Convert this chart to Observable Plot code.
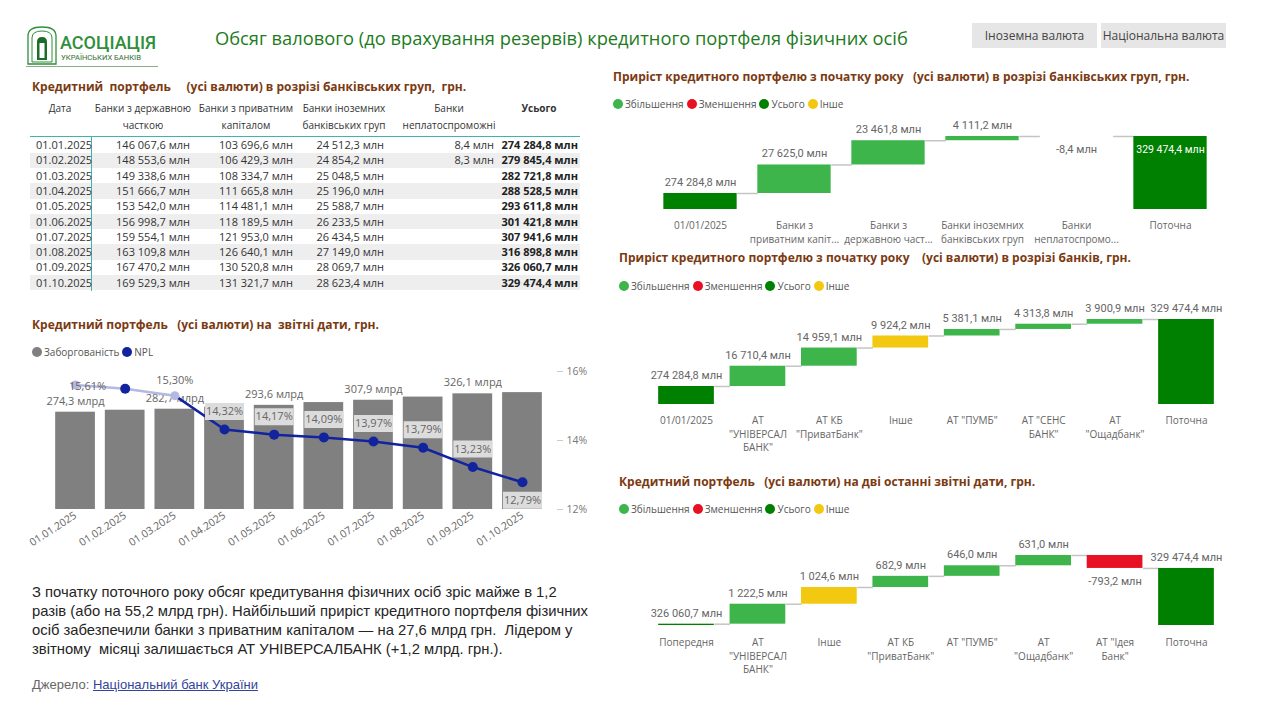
<!DOCTYPE html>
<html><head><meta charset="utf-8">
<script src="https://cdn.jsdelivr.net/npm/d3@7"></script>
<script src="https://cdn.jsdelivr.net/npm/@observablehq/plot@0.6"></script>
<style>
body{margin:0;background:#fff;width:1267px;height:725px;position:relative;overflow:hidden;font-family:"Open Sans",sans-serif;}
.abs{position:absolute;}
.sec{position:absolute;color:#7b3a12;font-weight:700;font-size:12px;white-space:pre;line-height:18px;}
.leg{position:absolute;font-size:10px;color:#555;white-space:nowrap;display:flex;align-items:center;line-height:14px;}
.leg span{display:flex;align-items:center;margin-right:3px;}
.leg i{display:inline-block;width:10px;height:10px;border-radius:50%;margin-right:2px;}
.cell{position:absolute;white-space:pre;font-size:11px;line-height:16px;color:#333;}
.btn{position:absolute;top:23px;height:25px;width:125px;background:#e6e6e6;color:#444;font-size:12px;line-height:25px;text-align:center;}
.plot{position:absolute;}
</style></head>
<body>
<!-- logo -->
<svg class="abs" style="left:24px;top:24px" width="140" height="48">
  <path d="M4,40 L4,12 Q4,3 18,3 Q32,3 32,12 L32,40 Z" fill="none" stroke="#2f8f3a" stroke-width="1.3"/>
  <path d="M8,38 L8,14 Q8,7 18,7 Q28,7 28,14 L28,38 Z" fill="none" stroke="#2f8f3a" stroke-width="1"/>
  <path d="M13,36 L13,18 Q13,13 18,13 Q23,13 23,18 L23,36 Z" fill="#1f6b2a"/>
  <rect x="15.5" y="19" width="5" height="15" fill="#fff"/>
  <line x1="2" y1="42.5" x2="134" y2="42.5" stroke="#6a9a6a" stroke-width="0.8"/>
  <text x="36" y="25" font-family="Roboto" font-weight="500" font-size="18" fill="#2f8f3a">АСОЦІАЦІЯ</text>
  <text x="37" y="36" font-family="Roboto" font-size="7.6" fill="#2f6f2f">УКРАЇНСЬКИХ БАНКІВ</text>
</svg>
<div class="abs" style="left:215px;top:25px;font-size:18.3px;line-height:26px;color:#1d7b1d;white-space:nowrap;">Обсяг валового (до врахування резервів) кредитного портфеля фізичних осіб</div>
<div class="btn" style="left:972px">Іноземна валюта</div>
<div class="btn" style="left:1101px">Національна валюта</div>

<div class="sec" style="left:32px;top:78px">Кредитний  портфель     (усі валюти) в розрізі банківських груп,  грн.</div>
<div class="sec" style="left:32px;top:316px">Кредитний портфель   (усі валюти) на  звітні дати, грн.</div>
<div class="sec" style="left:613px;top:68px">Приріст кредитного портфелю з початку року   (усі валюти) в розрізі банківських груп, грн.</div>
<div class="sec" style="left:619px;top:249px">Приріст кредитного портфелю з початку року    (усі валюти) в розрізі банків, грн.</div>
<div class="sec" style="left:619px;top:473px">Кредитний портфель   (усі валюти) на дві останні звітні дати, грн.</div>

<div id="left" class="plot" style="left:20px;top:360px"></div>
<div id="left2" class="plot" style="left:20px;top:360px"></div>
<div id="wfA" class="plot" style="left:605px;top:115px"></div>
<div id="wfB" class="plot" style="left:605px;top:295px"></div>
<div id="wfC" class="plot" style="left:605px;top:520px"></div>

<div class="abs" style="left:32px;top:583px;width:600px;font-family:'Liberation Sans',Arial,sans-serif;font-size:14.8px;line-height:19px;color:#252525;white-space:nowrap;">З початку поточного року обсяг кредитування фізичних осіб зріс майже в 1,2<br>разів (або на 55,2 млрд грн). Найбільший приріст кредитного портфеля фізичних<br>осіб забезпечили банки з приватним капіталом — на 27,6 млрд грн.&nbsp; Лідером у<br>звітному&nbsp; місяці залишається АТ УНІВЕРСАЛБАНК (+1,2 млрд. грн.).</div>
<div class="abs" style="left:32px;top:676px;font-family:'Liberation Sans',Arial,sans-serif;font-size:13px;line-height:18px;color:#666;white-space:nowrap;">Джерело: <span style="color:#33449a;text-decoration:underline">Національний банк України</span></div>

<script>
// ---------- data ----------
const dates = ["01.01.2025","01.02.2025","01.03.2025","01.04.2025","01.05.2025","01.06.2025","01.07.2025","01.08.2025","01.09.2025","01.10.2025"];
const stateBanks = [146067.6,148553.6,149338.6,151666.7,153542.0,156998.7,159554.1,163109.8,167470.2,169529.3];
const privateBanks = [103696.6,106429.3,108334.7,111665.8,114481.1,118189.5,121953.0,126640.1,130520.8,131321.7];
const foreignBanks = [24512.3,24854.2,25048.5,25196.0,25588.7,26233.5,26434.5,27149.0,28069.7,28623.4];
const insolventBanks = [8.4,8.3,null,null,null,null,null,null,null,null];
const totals = [274284.8,279845.4,282721.8,288528.5,293611.8,301421.8,307941.6,316898.8,326060.7,329474.4];
const nplShare = [15.61,15.50,15.30,14.32,14.17,14.09,13.97,13.79,13.23,12.79];
const tableHeaders = ["Дата","Банки з державною\nчасткою","Банки з приватним\nкапіталом","Банки іноземних\nбанківських груп","Банки\nнеплатоспроможні","Усього"];

const groupCats = ["01/01/2025","Банки з\nприватним капіт...","Банки з\nдержавною част...","Банки іноземних\nбанківських груп","Банки\nнеплатоспромо...","Поточна"];
const groupVals = [274284.8,27625.0,23461.8,4111.2,-8.4,329474.4];
const groupKinds = ["total","change","change","change","change","total"];

const bankCats = ["01/01/2025","АТ\n\"УНІВЕРСАЛ\nБАНК\"","АТ КБ\n\"ПриватБанк\"","Інше","АТ \"ПУМБ\"","АТ \"СЕНС\nБАНК\"","АТ\n\"Ощадбанк\"","Поточна"];
const bankVals = [274284.8,16710.4,14959.1,9924.2,5381.1,4313.8,3900.9,329474.4];
const bankKinds = ["total","change","change","other","change","change","change","total"];

const monthCats = ["Попередня","АТ\n\"УНІВЕРСАЛ\nБАНК\"","Інше","АТ КБ\n\"ПриватБанк\"","АТ \"ПУМБ\"","АТ\n\"Ощадбанк\"","АТ \"Ідея\nБанк\"","Поточна"];
const monthVals = [326060.7,1222.5,1024.6,682.9,646.0,631.0,-793.2,329474.4];
const monthKinds = ["total","change","other","change","change","change","change","total"];

const legendItems = ["Збільшення","Зменшення","Усього","Інше"];
const legendColors = ["#3db54a","#e81123","#008000","#f2c811"];

// ---------- helpers ----------
const loc = d3.formatLocale({decimal:",",thousands:"\u00a0",grouping:[3],currency:["",""],minus:"-"});
const fmtMln = v => loc.format(",.1f")(v) + " млн";
const fmtBn = v => loc.format(".1f")(v/1000) + " млрд";
const fmtPct = v => loc.format(".2f")(v) + "%";

function legend(x, y, labels, colors){
  const d = document.createElement("div");
  d.className = "leg"; d.style.left = x+"px"; d.style.top = (y-7)+"px";
  d.innerHTML = labels.map((l,i)=>`<span><i style="background:${colors[i]}"></i>${l}</span>`).join("");
  document.body.appendChild(d);
}
legend(613,104,legendItems,legendColors);
legend(619,286,legendItems,legendColors);
legend(619,509,legendItems,legendColors);
legend(32,352,["Заборгованість","NPL"],["#808080","#12239e"]);

// ---------- table ----------
function cell(text,x,y,align,extra){
  const d=document.createElement("div"); d.className="cell"; d.textContent=text;
  d.style.top=(y-8)+"px";
  if(align==="right"){d.style.left=(x-160)+"px";d.style.width="160px";d.style.textAlign="right";}
  else if(align==="center"){d.style.left=(x-80)+"px";d.style.width="160px";d.style.textAlign="center";}
  else d.style.left=x+"px";
  if(extra) Object.assign(d.style, extra);
  document.body.appendChild(d);
}
const rowY0=145, rowStep=15.3;
dates.forEach((_,i)=>{ if(i%2===1){const z=document.createElement("div");z.className="abs";
  Object.assign(z.style,{left:"30px",top:(rowY0+rowStep*i-rowStep/2)+"px",width:"550px",height:rowStep+"px",background:"#eeeeee"});document.body.appendChild(z);} });
{const l=document.createElement("div");l.className="abs";Object.assign(l.style,{left:"30px",top:"136px",width:"550px",height:"1px",background:"#3db3b3"});document.body.appendChild(l);
 const v=document.createElement("div");v.className="abs";Object.assign(v.style,{left:"91px",top:"137px",width:"1px",height:"154px",background:"#3db3b3"});document.body.appendChild(v);}
const hdrX=[60,143,246,344,449,539];
tableHeaders.forEach((h,i)=>cell(h,hdrX[i],108,"center",{lineHeight:"17px",fontSize:"10px",fontWeight:i===5?"700":"400",color:"#333"}));
const colRight=[190,293,384,494,578];
dates.forEach((d,i)=>{
  const y=rowY0+rowStep*i;
  cell(d,36,y,"left");
  [stateBanks,privateBanks,foreignBanks,insolventBanks].forEach((arr,j)=>{ if(arr[i]!=null) cell(fmtMln(arr[i]),colRight[j],y,"right"); });
  cell(fmtMln(totals[i]),colRight[4],y,"right",{fontWeight:"700",color:"#222"});
});

// ---------- left chart (bars + NPL) ----------
const rows = dates.map((d,i)=>({i,date:d,total:totals[i],npl:nplShare[i]}));
const W=590,H=200;
const common = {width:W,height:H,marginLeft:30.2,marginRight:54,marginTop:11,marginBottom:51,
  style:{fontFamily:"Open Sans",fontSize:"10.5px",background:"transparent",overflow:"visible"}};
const xLeft = {domain:[-0.5,9.5],range:[30.2,526.8],axis:null};
document.getElementById("left").append(Plot.plot({...common,
  x:xLeft, y:{domain:[0,389000],axis:null},
  marks:[
    Plot.rect(rows,{x1:d=>d.i-0.4,x2:d=>d.i+0.4,y1:0,y2:"total",fill:"#808080"}),
    Plot.text(rows.filter(d=>d.i%2===0),{x:"i",y:"total",dy:-11,text:d=>fmtBn(d.total),fill:"#666",fontSize:11}),
    Plot.axisX({ticks:d3.range(10),tickFormat:i=>dates[i],tickRotate:-33,tickSize:0,tickPadding:5,fill:"#666",fontSize:10.5,label:null})
  ]}));
const boxSym = {draw(ctx){ctx.moveTo(-19.5,-8.5);ctx.lineTo(19.5,-8.5);ctx.lineTo(19.5,8.5);ctx.lineTo(-19.5,8.5);ctx.closePath();}};
const faded="#b4b9e2", navy="#12239e";
document.getElementById("left2").append(Plot.plot({...common,
  x:xLeft, y:{domain:[12,16],axis:null},
  marks:[
    Plot.axisY({anchor:"right",ticks:[12,14,16],tickFormat:d=>d+"%",tickSize:6,tickPadding:4,stroke:"#ccc",fill:"#777",fontSize:10.5,label:null}),
    Plot.line(rows.slice(0,3),{x:"i",y:"npl",stroke:faded,strokeWidth:2.5}),
    Plot.line(rows.slice(2),{x:"i",y:"npl",stroke:navy,strokeWidth:2.5}),
    Plot.dot(rows.filter(d=>d.i===0||d.i===2),{x:"i",y:"npl",r:4.5,fill:faded}),
    Plot.dot(rows.filter(d=>d.i===1||d.i>=3),{x:"i",y:"npl",r:5,fill:navy}),
    Plot.dot(rows.filter(d=>d.i>=3&&d.i<9),{x:"i",y:"npl",dy:-18,symbol:boxSym,fill:"#dcdcdc"}),
    Plot.dot(rows.filter(d=>d.i===9),{x:"i",y:"npl",dy:18,symbol:boxSym,fill:"#dcdcdc"}),
    Plot.text(rows.filter(d=>d.i===0),{x:"i",y:"npl",dy:2,dx:12,text:d=>fmtPct(d.npl),fill:"#666",fontSize:11}),
    Plot.text(rows.filter(d=>d.i===2),{x:"i",y:"npl",dy:-15,text:d=>fmtPct(d.npl),fill:"#666",fontSize:11}),
    Plot.text(rows.filter(d=>d.i>=3&&d.i<9),{x:"i",y:"npl",dy:-18,text:d=>fmtPct(d.npl),fill:"#666",fontSize:11}),
    Plot.text(rows.filter(d=>d.i===9),{x:"i",y:"npl",dy:18,text:d=>fmtPct(d.npl),fill:"#666",fontSize:11})
  ]}));

// ---------- waterfalls ----------
function waterfall(id,cats,vals,kinds,cfg){
  const n=cats.length, w=0.78;
  let cum=0;
  const data=cats.map((c,i)=>{
    const v=vals[i],k=kinds[i]; let y1,y2,kind;
    if(k==="total"){y1=cfg.yMin;y2=v;cum=v;kind="Усього";}
    else{y1=cum;y2=cum+v;cum=y2;kind=k==="other"?"Інше":(v>=0?"Збільшення":"Зменшення");}
    return {i,cat:c,v,y1,y2,level:cum,top:Math.max(y1,y2),bot:Math.min(y1,y2),kind,total:k==="total"};
  });
  const links=data.slice(0,-1).map(d=>({x1:d.i+w/2,x2:d.i+1-w/2,y:d.level}));
  const last=data[n-1];
  const above=data.filter(d=>d.v>=0 && !(cfg.totalInside&&d===last));
  const marks=[
    Plot.link(links,{x1:"x1",x2:"x2",y1:"y",y2:"y",stroke:"#c4c4c4",strokeWidth:1.5}),
    Plot.rect(data,{x1:d=>d.i-w/2,x2:d=>d.i+w/2,y1:"y1",y2:"y2",fill:"kind"}),
    Plot.text(above,{x:"i",y:"top",dy:-11,text:d=>fmtMln(d.v),fill:"#666",fontFamily:"Roboto",fontSize:11}),
    Plot.text(data.filter(d=>d.v<0),{x:"i",y:"bot",dy:13,text:d=>fmtMln(d.v),fill:"#666",fontFamily:"Roboto",fontSize:11}),
    Plot.text(data,{x:"i",frameAnchor:"bottom",dy:cfg.labelDy,lineAnchor:"top",lineHeight:1.35,text:"cat",fill:"#666",fontSize:10})
  ];
  if(cfg.totalInside) marks.push(Plot.text([last],{x:"i",y:"top",dy:13,text:d=>fmtMln(d.v),fill:"#fff",fontFamily:"Roboto",fontSize:10.5}));
  document.getElementById(id).append(Plot.plot({
    width:662,height:cfg.height,marginLeft:cfg.ml,marginRight:cfg.mr,marginTop:cfg.mt,marginBottom:cfg.mb,
    x:{domain:[-0.5,n-0.5],axis:null},
    y:{domain:[cfg.yMin,cfg.yMax],axis:null},
    color:{type:"ordinal",domain:legendItems,range:legendColors},
    style:{fontFamily:"Open Sans",fontSize:"10px",background:"transparent",overflow:"visible"},
    marks
  }));
}
waterfall("wfA",groupCats,groupVals,groupKinds,{height:140,ml:48,mr:50,mt:5,mb:46,yMin:258800,yMax:344957,totalInside:true,labelDy:10});
waterfall("wfB",bankCats,bankVals,bankKinds,{height:165,ml:45.3,mr:45.3,mt:5,mb:56,yMin:259450,yMax:345118,labelDy:10});
waterfall("wfC",monthCats,monthVals,monthKinds,{height:165,ml:45.3,mr:45.3,mt:5,mb:60,yMin:325980,yMax:332104,labelDy:11});
</script>
</body></html>
